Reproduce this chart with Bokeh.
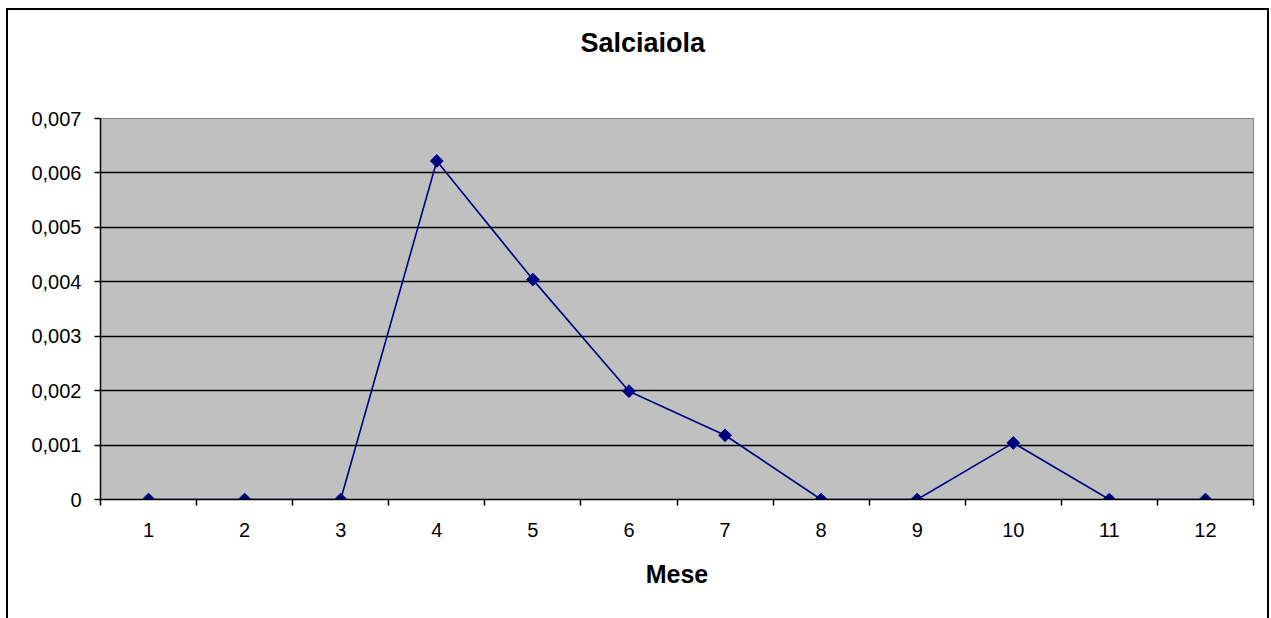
import math
from bokeh.plotting import figure
from bokeh.models import Range1d, FixedTicker, ColumnDataSource, Title
from bokeh.embed import file_html
from bokeh.resources import INLINE

# ---- data ----
months = [1, 2, 3, 4, 5, 6, 7, 8, 9, 10, 11, 12]
values = [0, 0, 0, 0.00622, 0.00404, 0.00199, 0.00118, 0, 0, 0.00104, 0, 0]
y_ticks = [0, 0.001, 0.002, 0.003, 0.004, 0.005, 0.006, 0.007]
y_tick_labels = ["0", "0,001", "0,002", "0,003", "0,004", "0,005", "0,006", "0,007"]
title_text = "Salciaiola"
x_title = "Mese"

FONT = "Liberation Sans"
NAVY = "#000080"

src = ColumnDataSource(dict(x=months, y=values))

p = figure(width=1263, height=612, output_backend="svg", toolbar_location=None,
           x_range=Range1d(0.5, 12.5), y_range=Range1d(0, 0.007),
           min_border_left=92, min_border_right=18, min_border_top=108,
           min_border_bottom=123, background_fill_color="#C0C0C0",
           border_fill_color="white", title=title_text)
p.styles = {"border-left": "2px solid black", "border-top": "2px solid black",
            "border-right": "2px solid black", "margin-left": "6px", "margin-top": "8px"}

# spacer between the chart title and the plot area
p.add_layout(Title(text=" ", text_font_size="2px", standoff=37), "above")

p.title.text_font = FONT
p.title.text_font_size = "27px"
p.title.text_font_style = "bold"
p.title.text_color = "black"
p.title.vertical_align = "top"
p.title.align = "left"
p.title.offset = 480
p.title.standoff = 35

p.outline_line_color = "#808080"
p.outline_line_width = 1

# grid
p.xgrid.grid_line_color = None
p.ygrid.grid_line_color = "black"
p.ygrid.grid_line_width = 1.3
p.ygrid.ticker = FixedTicker(ticks=y_ticks[1:-1])

# x axis
xa = p.xaxis[0]
xa.ticker = FixedTicker(ticks=months, minor_ticks=[m - 0.5 for m in months] + [months[-1] + 0.5])
xa.major_tick_line_color = None
xa.major_tick_out = 6
xa.major_tick_in = 0
xa.minor_tick_line_color = "black"
xa.minor_tick_line_width = 1.5
xa.minor_tick_out = 6
xa.minor_tick_in = 0
xa.axis_line_color = "black"
xa.axis_line_width = 1.5
xa.major_label_text_font = FONT
xa.major_label_text_font_size = "20px"
xa.major_label_text_color = "black"
xa.major_label_standoff = 17
xa.axis_label = x_title
xa.axis_label_text_font = FONT
xa.axis_label_text_font_size = "25px"
xa.axis_label_text_font_style = "bold"
xa.axis_label_text_color = "black"
xa.axis_label_standoff = 20

# y axis
ya = p.yaxis[0]
ya.ticker = FixedTicker(ticks=y_ticks)
ya.major_label_overrides = {t: l for t, l in zip(y_ticks, y_tick_labels)}
ya.major_tick_line_color = "black"
ya.major_tick_line_width = 1.5
ya.major_tick_out = 6
ya.major_tick_in = 0
ya.minor_tick_line_color = None
ya.axis_line_color = "black"
ya.axis_line_width = 1.5
ya.major_label_text_font = FONT
ya.major_label_text_font_size = "20px"
ya.major_label_text_color = "black"
ya.major_label_standoff = 13

p.line("x", "y", source=src, line_color=NAVY, line_width=1.6)
p.scatter("x", "y", source=src, marker="square", angle=math.pi / 4, size=9,
          fill_color=NAVY, line_color=NAVY)

open("out.html", "w").write(file_html(p, INLINE))
